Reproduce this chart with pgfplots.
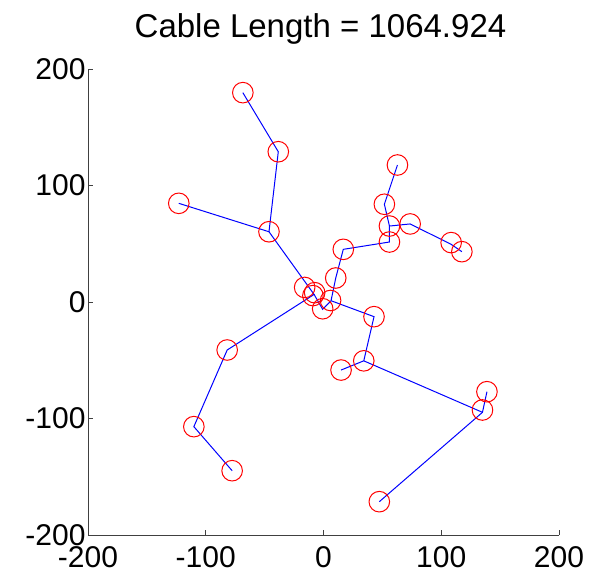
\documentclass[border=0pt]{standalone}
\usepackage{fontspec}
\setmainfont{Liberation Sans}
\usepackage{pgfplots}
\pgfplotsset{compat=1.18}
\begin{document}
\begin{tikzpicture}
\useasboundingbox (0,0) rectangle (593pt,581pt);
\begin{axis}[
  at={(88pt,46pt)}, anchor=south west,
  scale only axis, width=471pt, height=466pt,
  xmin=-200, xmax=200, ymin=-200, ymax=200,
  axis x line=bottom, axis y line=left,
  axis line style={-, black!75, line width=0.8pt},
  tick style={black!75, line width=0.8pt},
  tick align=inside, major tick length=5pt,
  xtick={-200,-100,0,100,200}, ytick={-200,-100,0,100,200},
  xticklabels={-200,-100,0,100,200}, yticklabels={-200,-100,0,100,200},
  tick label style={font=\fontsize{30}{36}\selectfont},
  xticklabel style={yshift=-8pt},
  yticklabel style={xshift=1pt},
  title={Cable Length = 1064.924},
  title style={font=\fontsize{33}{40}\selectfont, at={(0.5,1)}, anchor=base, yshift=25pt, xshift=-3pt},
  clip=false,
]
\pgfplotsset{cable/.style={blue, line width=1pt, mark=none}}
\addplot[cable] coordinates {(-68.5,179.7) (-38.4,129) (-46.3,60.3) (-8,6.5) (-81.8,-41.2) (-110.1,-107) (-77.6,-144.8)};
\addplot[cable] coordinates {(-122.9,84.7) (-46.3,60.3)};
\addplot[cable] coordinates {(-8,6.5) (-0.7,-6.3) (6.4,1.1) (10.4,20.6) (16.8,45.2) (56,51.5) (56,65.2) (51.7,83.9) (62.8,117.6)};
\addplot[cable] coordinates {(56,65.2) (73.6,67) (108.4,49.5) (117.5,43.2)};
\addplot[cable] coordinates {(6.4,1.1) (42.9,-12.6) (34.2,-50.5) (14.9,-58.4)};
\addplot[cable] coordinates {(34.2,-50.5) (135,-94.7) (138.8,-77)};
\addplot[cable] coordinates {(135,-94.7) (47.4,-171.4)};
\addplot[only marks, mark=o, red, mark size=10.3pt, mark options={line width=1pt}] coordinates {
(-68.5,179.7) (-38.4,129) (-122.9,84.7) (-46.3,60.3) (62.8,117.6) (51.7,83.9)
(56,65.2) (56,51.5) (73.6,67) (108.4,51) (117.5,43.2) (16.8,45.2) (10.4,20.6)
(-16,12.5) (-7.5,8) (-9,5.5) (6,1.3) (-0.7,-5.8) (42.9,-12.6) (34.2,-50.5)
(14.9,-58.4) (138.8,-77) (135,-92.7) (47.4,-171.4) (-81.8,-41.2) (-110.1,-107)
(-77.6,-144.8)};
\end{axis}
\end{tikzpicture}
\end{document}
